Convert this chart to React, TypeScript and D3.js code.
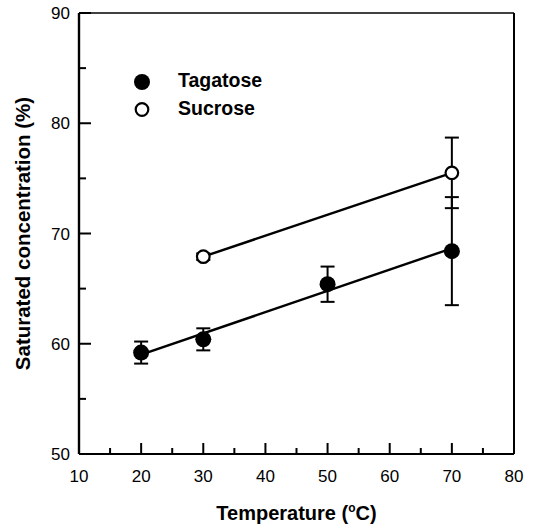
import React from 'react';
import * as d3 from 'd3';

// ── Data ─────────────────────────────────────────────────────────────────────
const temps = [20, 30, 50, 70];
const tagatose = [59.2, 60.4, 65.4, 68.4];
const tagatoseErr = [1.0, 1.0, 1.6, 4.9];

const sucroseTemps = [30, 70];
const sucrose = [67.9, 75.5];
const sucroseErr = [0.3, 3.2];

const xTicks = [10, 20, 30, 40, 50, 60, 70, 80];
const yTicks = [50, 60, 70, 80, 90];

const W = 533;
const H = 526;
const M = { left: 79, right: 19, top: 13, bottom: 72 };
const FONT = '"Liberation Sans", Arial, sans-serif';

// least squares fit, for the Tagatose line
function fit(xs: number[], ys: number[]) {
  const mx = d3.mean(xs)!;
  const my = d3.mean(ys)!;
  const sxy = d3.sum(xs, (x, i) => (x - mx) * (ys[i] - my));
  const sxx = d3.sum(xs, x => (x - mx) ** 2);
  const b = sxy / sxx;
  return (x: number) => my + b * (x - mx);
}

export default function App() {
  const x = d3.scaleLinear().domain([10, 80]).range([M.left, W - M.right]);
  const y = d3.scaleLinear().domain([50, 90]).range([H - M.bottom, M.top]);
  const x0 = x(10), x1 = x(80), y0 = y(50), y1 = y(90);

  const line = d3.line<[number, number]>().x(d => x(d[0])).y(d => y(d[1]));
  const f = fit(temps, tagatose);
  const tagLine: [number, number][] = [[d3.min(temps)!, f(d3.min(temps)!)], [d3.max(temps)!, f(d3.max(temps)!)]];
  const sucLine: [number, number][] = sucroseTemps.map((t, i) => [t, sucrose[i]]);

  const xMinor = d3.range(15, 80, 10);
  const yMinor = d3.range(55, 90, 10);

  const errBar = (t: number, v: number, e: number, key: string) => (
    <g key={key} stroke="#000" strokeWidth={2}>
      <line x1={x(t)} x2={x(t)} y1={y(v - e)} y2={y(v + e)} />
      <line x1={x(t) - 7} x2={x(t) + 7} y1={y(v - e)} y2={y(v - e)} />
      <line x1={x(t) - 7} x2={x(t) + 7} y1={y(v + e)} y2={y(v + e)} />
    </g>
  );

  return (
    <svg width={W} height={H} style={{ position: 'absolute', left: 0, top: 0, background: '#fff' }} fontFamily={FONT}>
      {/* frame */}
      <line x1={x0} x2={x1} y1={y1} y2={y1} stroke="#000" strokeWidth={1.5} />
      <line x1={x1} x2={x1} y1={y1} y2={y0} stroke="#000" strokeWidth={2} />
      <line x1={x0} x2={x1} y1={y0} y2={y0} stroke="#000" strokeWidth={2.2} />
      <line x1={x0} x2={x0} y1={y1} y2={y0} stroke="#000" strokeWidth={2.4} />

      {/* x ticks */}
      {xTicks.map(t => (
        <g key={'xt' + t}>
          <line x1={x(t)} x2={x(t)} y1={y0} y2={y0 - 11} stroke="#000" strokeWidth={2} />
          <text x={x(t)} y={482} textAnchor="middle" fontSize={17}>{t}</text>
        </g>
      ))}
      {xMinor.map(t => (
        <line key={'xm' + t} x1={x(t)} x2={x(t)} y1={y0} y2={y0 - 6} stroke="#000" strokeWidth={2} />
      ))}

      {/* y ticks */}
      {yTicks.map(t => (
        <g key={'yt' + t}>
          <line x1={x0} x2={x0 + 12} y1={y(t)} y2={y(t)} stroke="#000" strokeWidth={2} />
          <text x={x0 - 9} y={y(t) + 6} textAnchor="end" fontSize={17}>{t}</text>
        </g>
      ))}
      {yMinor.map(t => (
        <line key={'ym' + t} x1={x0} x2={x0 + 7} y1={y(t)} y2={y(t)} stroke="#000" strokeWidth={2} />
      ))}

      {/* axis titles */}
      <text x={(x0 + x1) / 2} y={520} textAnchor="middle" fontSize={20} fontWeight="bold">
        Temperature (<tspan fontSize={12} dy={-8}>o</tspan><tspan dy={8}>C)</tspan>
      </text>
      <text transform={`translate(30,${(y0 + y1) / 2}) rotate(-90)`} textAnchor="middle" fontSize={20.5} fontWeight="bold">
        Saturated concentration (%)
      </text>

      {/* fit lines */}
      <path d={line(tagLine)!} fill="none" stroke="#000" strokeWidth={2.4} />
      <path d={line(sucLine)!} fill="none" stroke="#000" strokeWidth={2.4} />

      {/* error bars */}
      {temps.map((t, i) => errBar(t, tagatose[i], tagatoseErr[i], 'te' + i))}
      {sucroseTemps.map((t, i) => errBar(t, sucrose[i], sucroseErr[i], 'se' + i))}

      {/* markers */}
      {temps.map((t, i) => (
        <circle key={'tm' + i} cx={x(t)} cy={y(tagatose[i])} r={8} fill="#000" />
      ))}
      {sucroseTemps.map((t, i) => (
        <circle key={'sm' + i} cx={x(t)} cy={y(sucrose[i])} r={6.3} fill="#fff" stroke="#000" strokeWidth={2.2} />
      ))}

      {/* legend */}
      <circle cx={142} cy={82} r={8} fill="#000" />
      <text x={178} y={87} fontSize={19.5} fontWeight="bold">Tagatose</text>
      <circle cx={142} cy={109.5} r={6.3} fill="#fff" stroke="#000" strokeWidth={2.2} />
      <text x={178} y={115} fontSize={19.5} fontWeight="bold">Sucrose</text>
    </svg>
  );
}
